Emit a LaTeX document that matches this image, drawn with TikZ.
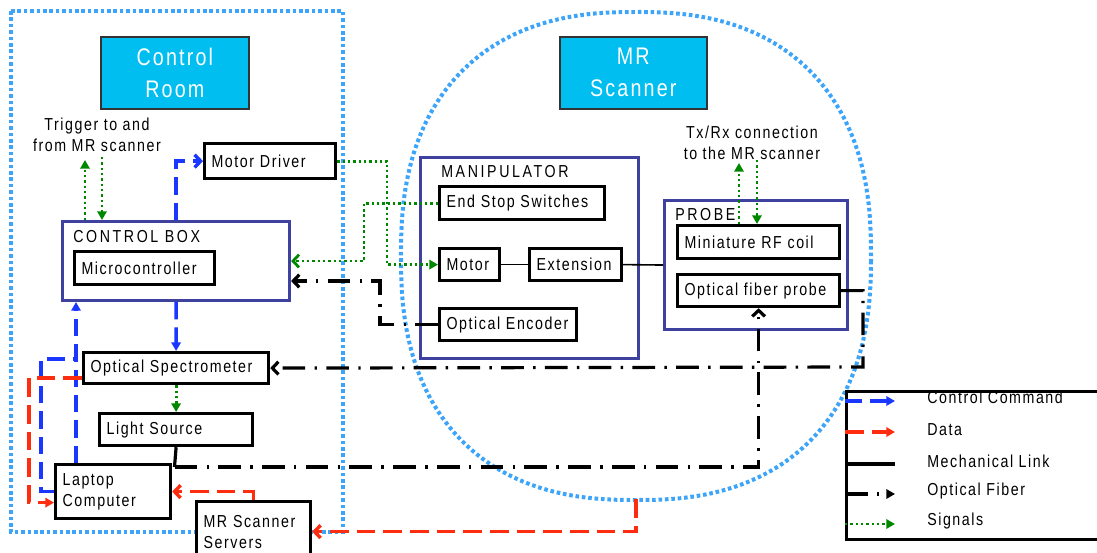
\documentclass[tikz,border=0pt]{standalone}
\usepackage{fontspec}
\setmainfont{Liberation Sans}[FakeStretch=0.82,LetterSpace=9]
\usetikzlibrary{arrows.meta,calc}
\definecolor{titlecyan}{RGB}{0,190,240}
\definecolor{cblue}{RGB}{25,55,255}
\definecolor{dred}{RGB}{255,45,15}
\definecolor{sgreen}{RGB}{0,135,0}
\definecolor{grpblue}{RGB}{62,66,158}
\definecolor{roomblue}{RGB}{60,165,250}
\begin{document}
\begin{tikzpicture}[x=0.75pt,y=-0.75pt,
 font=\fontsize{13}{15.75}\selectfont,
 box/.style={draw=black, line width=2.4pt, fill=white, anchor=north west, inner xsep=5.25pt, inner ysep=0pt, align=left},
 grp/.style={draw=grpblue, line width=2.3pt, anchor=north west, inner sep=0pt},
 grplbl/.style={anchor=west, inner sep=0pt, font=\fontsize{13}{15.75}\selectfont\addfontfeature{LetterSpace=15}},
 ttl/.style={draw=black!80, line width=1.2pt, fill=titlecyan, text=white, anchor=north west, align=center, inner sep=0pt, font=\fontsize{18}{24}\selectfont},
 room/.style={draw=roomblue, line width=3pt, dash pattern=on 2.7pt off 2.1pt},
 ctrl/.style={draw=cblue, line width=2.6pt, dash pattern=on 13pt off 6pt},
 data/.style={draw=dred, line width=2.6pt, dash pattern=on 14pt off 6pt},
 fiber/.style={draw=black, line width=2.4pt, dash pattern=on 17pt off 7pt on 1.8pt off 7pt},
 sig/.style={draw=sgreen, line width=2.1pt, dash pattern=on 1.8pt off 2.2pt},
 mech/.style={draw=black, line width=1.2pt},
 tobarb/.style={-{Straight Barb[length=4.5pt,width=9.5pt]}},
 totri/.style={-{Triangle[length=6.5pt,width=7pt]}},
 legtext/.style={anchor=west, inner sep=0pt}
]
\clip (0,0) rectangle (1097,553);
\fill[white] (0,0) rectangle (1097,553);

% room boundaries
\draw[room] (11,11) rectangle (343,532);
\draw[room] plot[smooth, samples=181, domain=0.5:360.5, variable=\t]
 ({636+235*sign(cos(\t))*abs(cos(\t))^(0.8333)}, {256+244*sign(sin(\t))*abs(sin(\t))^(0.8333)}) -- cycle;

% titles
\node[ttl, minimum width=111pt, minimum height=54pt] (crtitle) at (100,36) {Control\\Room};
\node[ttl, minimum width=110.25pt, minimum height=54pt] (mrtitle) at (559,36) {MR\\Scanner};

% group boxes
\node[grp, minimum width=170.25pt, minimum height=59.25pt] (ctrlbox) at (61,220) {};
\node[grplbl] (ctrlboxlbl) at (73,236.5) {CONTROL BOX};
\node[grp, minimum width=163.5pt, minimum height=150.75pt] (manip) at (419,156) {};
\node[grplbl] (maniplbl) at (441,172) {MANIPULATOR};
\node[grp, minimum width=137.25pt, minimum height=96.75pt] (probe) at (663,199) {};
\node[grplbl] (probelbl) at (675,214.5) {PROBE};

% boxes
\node[box, text width=87.75pt, minimum height=26.25pt] (motordriver) at (203,142) {Motor Driver};
\node[box, text width=94.5pt, minimum height=24.75pt] (micro) at (73,250) {Microcontroller};
\node[box, text width=128.25pt, minimum height=23.25pt] (spectro) at (82,351) {Optical Spectrometer};
\node[box, text width=104.25pt, minimum height=24pt] (light) at (98,412) {Light Source};
\node[box, text width=75.75pt, minimum height=40.5pt] (laptop) at (54,463) {Laptop\\Computer};
\node[box, text width=75pt, minimum height=45pt] (servers) at (195,500) {MR Scanner\\Servers};
\node[box, text width=113.25pt, minimum height=24.75pt] (endstop) at (438,185) {End Stop Switches};
\node[box, text width=34.5pt, minimum height=24pt] (motor) at (438,247) {Motor};
\node[box, text width=58.5pt, minimum height=24pt] (ext) at (528,247) {Extension};
\node[box, text width=92.25pt, minimum height=24pt] (encoder) at (438,307) {Optical Encoder};
\node[box, text width=111pt, minimum height=24.75pt] (rfcoil) at (676,224) {Miniature RF coil};
\node[box, text width=111pt, minimum height=24pt] (fiberprobe) at (676,273) {Optical fiber probe};

% free texts
\node[align=center, inner sep=0pt] (trig) at (97,135) {Trigger to and\\from MR scanner};
\node[align=center, inner sep=0pt] (txrx) at (752,143) {Tx/Rx connection\\to the MR scanner};

% helper coordinates
\coordinate (trig1) at (85,160);
\coordinate (trig2) at (102,157);
\coordinate (tx1) at (739,163);
\coordinate (tx2) at (757,160);
\coordinate (g1) at (364,0);
\coordinate (g2) at (387,0);
\coordinate (k1) at (380,281);
\coordinate (f1) at (174.5,467);
\coordinate (f2) at (863,367);
\coordinate (r1) at (636,499);
\coordinate (r2) at (29,0);
\coordinate (b1) at (41,359);
\coordinate (b2) at (76,0);

% signals (green)
\draw[sig,totri] (ctrlbox.north -| trig1) -- (trig1);
\draw[sig,totri] (trig2) -- (ctrlbox.north -| trig2);
\draw[sig,totri] (rfcoil.north -| tx1) -- (tx1);
\draw[sig,totri] (tx2) -- (rfcoil.north -| tx2);
\draw[sig,totri] (motordriver.east) -| (g2 |- motor.west) -- (motor.west);
\draw[sig,tobarb] (endstop.west) -| (g1 |- ctrlbox.east) -- (ctrlbox.east);
\draw[sig,totri] (spectro.south) -- (light.north);

% control commands (blue)
\draw[ctrl,tobarb] (ctrlbox.north) |- (motordriver.west);
\draw[ctrl,totri] (ctrlbox.south) -- (spectro.north);
\draw[ctrl,totri] (laptop.north -| b2) -- (ctrlbox.south -| b2);
\draw[ctrl] (laptop.west) -| (b1) -- (b1 -| b2);

% data (red)
\draw[data,totri] ([yshift=-7.5pt]spectro.west) -| (r2 |- laptop.west) |- ([yshift=-8.25pt]laptop.west);
\draw[data,tobarb] (servers.north) |- (laptop.east);
\draw[data,tobarb] (r1) |- (servers.east);

% mechanical
\draw[mech] (motor.east) -- (ext.west);
\draw[mech] (ext.east) -- (probe.west);

% optical fiber
\draw[fiber,tobarb] (encoder.west) -| (k1) -- (k1 -| ctrlbox.east);
\draw[black, line width=2.4pt] (light.south) -- (f1);
\draw[fiber,tobarb] (f1) -| (fiberprobe.south);
\draw[fiber,tobarb] (fiberprobe.east) -| (f2) -- (spectro.east);

% legend
\node[draw=black, line width=2.4pt, anchor=north west, minimum width=200pt, minimum height=111pt, inner sep=0pt] (legend) at (845,390) {};
\coordinate (la1) at (845,401); \coordinate (lb1) at (895,401);
\coordinate (la2) at (845,432); \coordinate (lb2) at (895,432);
\coordinate (la3) at (845,464); \coordinate (lb3) at (895,464);
\coordinate (la4) at (845,494); \coordinate (lb4) at (895,494);
\coordinate (la5) at (845,524); \coordinate (lb5) at (895,524);
\draw[ctrl,totri] (la1) -- (lb1);
\draw[data,totri] (la2) -- (lb2);
\draw[black, line width=2.4pt] (la3) -- (lb3);
\draw[fiber,totri] (la4) -- (lb4);
\draw[sig,totri] (la5) -- (lb5);
\node[legtext] (lt1) at (927,397) {Control Command};
\node[legtext] (lt2) at (927,430) {Data};
\node[legtext] (lt3) at (927,461) {Mechanical Link};
\node[legtext] (lt4) at (927,491) {Optical Fiber};
\node[legtext] (lt5) at (927,521) {Signals};
\end{tikzpicture}
\end{document}
